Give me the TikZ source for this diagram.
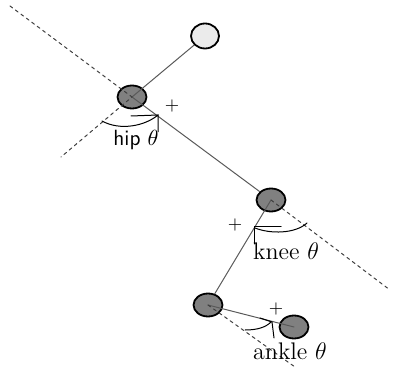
\documentclass[tikz,border=0pt]{standalone}
\usepackage{amsmath, amssymb}
\usetikzlibrary{shapes.geometric}

\begin{document}
\begin{tikzpicture}
	[x=0.5pt,y=-0.5pt,line cap=round,
	%Styles
	joint/.style={ellipse,draw,line width=0.9pt,minimum width=14.5pt,minimum height=11.5pt,inner sep=0pt,fill=jointcolor},
	limb/.style={draw=limbcolor,line width=0.5pt},
	extension/.style={dash pattern=on 1.6pt off 1.8pt,line width=0.5pt,draw=black!75},
	angle mark/.style={line width=0.5pt},
	angle text/.style={inner sep=0pt,font=\large},
	sign/.style={inner sep=0pt,font=\small}
	]
	
	%Colors
	\colorlet{jointcolor}{black!50}
	\colorlet{headcolor}{black!8}
	\colorlet{limbcolor}{black!65}
	
	\useasboundingbox (0,0) rectangle (400,367);
	
	%The joints
	\node[joint,fill=headcolor,minimum width=14pt,minimum height=12.5pt] (shoulder) at (205,36) {};
	\node[joint] (hip) at (132,97) {};
	\node[joint] (knee) at (271,200) {};
	\node[joint] (ankle) at (208,305) {};
	\node[joint] (toe) at (294,327) {};
	
	%Free ends of the dashed lines
	\coordinate (thigh back) at (10,6);
	\coordinate (trunk end) at (61,157);
	\coordinate (thigh end) at (390,290);
	\coordinate (foot end) at (295,367);
	
	%Segments
	\draw[limb] (shoulder) -- (hip.center);
	\draw[limb] (hip.center) -- (knee);
	\draw[limb] (knee.center) -- (ankle);
	\draw[limb] (ankle.center) -- (toe.center);
	
	%Extensions
	\draw[extension] (thigh back) -- (hip.center) -- (trunk end);
	\draw[extension] (knee.center) -- (thigh end);
	\draw[extension] (ankle.center) -- (foot end);
	
	%Angle marks
	\draw[angle mark] (102,121) .. controls (120,131) and (145,126) .. (158,115);
	\draw[angle mark] (131,116) -- (158,115) -- (158,132);
	\draw[angle mark] (307,223) .. controls (295,234) and (270,234) .. (255,228);
	\draw[angle mark] (281,227) -- (254,227) -- (254,244);
	\draw[angle mark] (245,330) .. controls (258,330) and (266,327) .. (271,322);
	\draw[angle mark] (260,318) -- (272,322) -- (274,338);
	
	%Signs and labels
	\node[sign] (hip plus) at (172,106) {$+$};
	\node[sign] (knee plus) at (235,225) {$+$};
	\node[sign] (ankle plus) at (276,309) {$+$};
	\node[angle text,font=\fontsize{11}{13}\selectfont] (hip label) at (136,140) {\textsf{hip} $\theta$};
	\node[angle text] (knee label) at (286,251) {knee $\theta$};
	\node[angle text] (ankle label) at (290,351) {ankle $\theta$};
\end{tikzpicture}
\end{document}
